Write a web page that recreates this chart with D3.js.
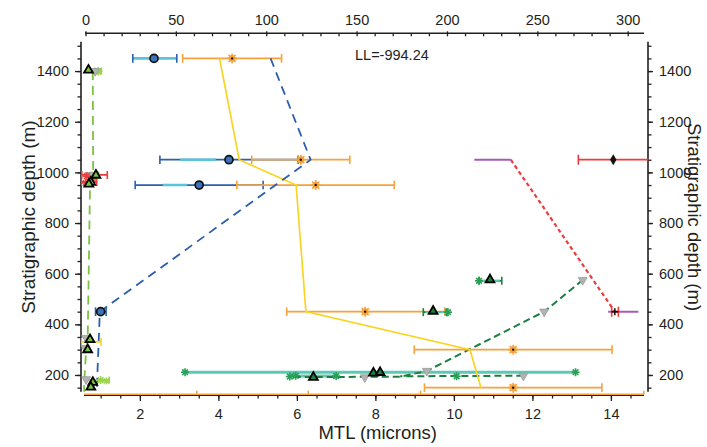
<!DOCTYPE html>
<html>
<head>
<meta charset="utf-8">
<script src="https://cdn.jsdelivr.net/npm/d3@7"></script>
<style>
  html, body { margin: 0; padding: 0; background: #fff; }
  svg { display: block; font-family: "Liberation Sans", Arial, sans-serif; }
</style>
</head>
<body>
<svg id="chart" width="707" height="447"></svg>
<script>
// ---- axis domains and ticks ----
const mtlDomain = [0.5, 14.95];          // bottom axis, microns
const depthDomain = [134, 1516];          // stratigraphic depth, m
const topDomain = [0, 300];               // upper axis scale
const bottomTicks = [2, 4, 6, 8, 10, 12, 14];
const topTicks = [0, 50, 100, 150, 200, 250, 300];
const depthTicks = [200, 400, 600, 800, 1000, 1200, 1400];
const llText = "LL=-994.24";

// ---- circle series (two error ranges) ----
const circleDepth   = [1450, 1050, 950, 450];
const circleMTL     = [2.36, 4.27, 3.51, 1.00];
const circleLo      = [1.82, 2.51, 1.88, 0.87];
const circleHi      = [2.94, 6.03, 5.14, 1.14];
const circleInnerLo = [1.82, 3.00, 2.56, 0.90];
const circleInnerHi = [2.94, 3.96, 3.23, 1.12];

// ---- orange star series ----
const starDepth = [1450, 1050, 950, 450, 300, 150];
const starMTL   = [4.35, 6.10, 6.48, 7.74, 11.51, 11.51];
const starLo    = [3.09, 4.85, 4.47, 5.74, 8.99, 9.25];
const starHi    = [5.61, 7.35, 8.48, 9.77, 14.03, 13.77];

// orange range along the base of the section
const baseDepth = 124;
const baseLo = 0.58, baseHi = 14.84;
const baseCaps = [3.45, 6.29, 9.15, 14.84];

// ---- model curves ----
const yellowDepth = [1450, 1050, 950, 450, 300, 150];
const yellowMTL   = [4.03, 4.53, 5.98, 6.23, 10.41, 10.69];

const blueDashDepth = [1450, 1050, 450, 134];
const blueDashMTL   = [5.33, 6.35, 0.98, 0.90];

const greenDashDepth = [1400, 985, 950, 335, 296, 167, 134];
const greenDashMTL   = [0.80, 0.81, 0.73, 0.67, 0.63, 0.58, 0.58];

const darkDashDepthA = [575, 450, 216, 193, 192];
const darkDashMTLA   = [13.28, 12.30, 9.31, 8.63, 5.82];
const darkDashDepthB = [197, 195];
const darkDashMTLB   = [11.77, 8.63];

const redDotDepth = [1050, 450];
const redDotMTL   = [11.45, 14.10];

// ---- triangle series ----
const triDepth = [1400, 985, 957, 950, 336, 296, 167, 148];
const triMTL   = [0.69, 0.88, 0.75, 0.70, 0.73, 0.67, 0.80, 0.75];
const darkTriDepth = [572, 448, 187, 204, 206];
const darkTriMTL   = [10.92, 9.47, 6.42, 7.95, 8.12];

const greyDepth = [1400, 989, 346, 306, 183, 575, 450, 216, 197, 191];
const greyMTL   = [0.86, 0.71, 0.63, 0.61, 0.63, 13.28, 12.30, 9.31, 11.77, 7.73];

// green bars round the dark triangles
const gBarDepth = [572, 448];
const gBarLo    = [10.64, 9.22];
const gBarHi    = [11.22, 9.82];

// teal ranges near the base
const tealDepth = [211, 196];
const tealLo    = [3.15, 5.82];
const tealHi    = [13.10, 7.00];
const dkAstDepth = [211, 211, 194, 197, 196, 195, 572, 448];
const dkAstMTL   = [3.15, 13.10, 5.82, 5.97, 7.00, 10.07, 10.64, 9.85];

// light green asterisks
const lgDepth = [1400, 990, 180];
const lgMTL   = [0.94, 0.85, 1.00];
const lgLo    = [0.85, 0.75, 0.63];
const lgHi    = [1.02, 0.95, 1.22];

// red cluster
const redBarDepth = [990, 962];
const redBarLo    = [0.52, 0.50];
const redBarHi    = [1.17, 0.90];
const redAstDepth = [985, 970, 958];
const redAstMTL   = [0.65, 0.78, 0.62];

// yellow range
const yBarDepth = [331];
const yBarLo    = [0.50];
const yBarHi    = [1.01];

// right-hand points
const diamondDepth = [1050], diamondMTL = [14.06], diamondLo = [13.17], diamondHi = [15.30];
const redXDepth = [450], redXMTL = [14.10], redXLo = [14.02], redXHi = [14.19];
const purpleDepth = [1050, 450];
const purpleLo    = [10.52, 13.93];
const purpleHi    = [11.45, 14.70];

// ---- colours ----
const C = {
  ink: "#231f20", orange: "#f7a23b", dblue: "#2c5fab", cyan: "#58c3d9",
  cfill: "#3a72bd", yellow: "#f9d423", lgreen: "#7cc242", lgast: "#9bd34f",
  dgreen: "#1a7f3f", dgast: "#27a055", teal: "#5cc9b5", grey: "#b3b3b3",
  red: "#ee3b3b", purple: "#a65cb6"
};

const svg = d3.select("#chart");
const x = d3.scaleLinear().domain(mtlDomain).range([81, 648.2]);
const y = d3.scaleLinear().domain(depthDomain).range([391.7, 41.7]);
const xTop = d3.scaleLinear().domain(topDomain).range([85.5, 627.7]);

const tickFont = 14.5;

// ---- axes ----
function styleAxis(g) {
  g.select(".domain").remove();
  g.selectAll(".tick line").attr("stroke", C.ink).attr("stroke-width", 1.3);
  g.selectAll(".tick text").attr("fill", C.ink).style("font-size", tickFont + "px");
}
const range = (a, b, s) => d3.range(a, b + s / 2, s);

// bottom
svg.append("g").attr("transform", "translate(0,395)")
  .call(d3.axisBottom(x).tickValues(range(1, 14.5, 0.5)).tickSize(3.5).tickFormat(""))
  .call(styleAxis);
svg.append("g").attr("transform", "translate(0,395)")
  .call(d3.axisBottom(x).tickValues(bottomTicks).tickSize(6).tickPadding(7.8).tickFormat(d3.format("d")))
  .call(styleAxis);
svg.append("line").attr("x1", 84).attr("x2", 644).attr("y1", 395.3).attr("y2", 395.3)
  .attr("stroke", C.ink).attr("stroke-width", 1.6);

// top
svg.append("g").attr("transform", "translate(0,33.3)")
  .call(d3.axisTop(xTop).tickValues(range(0, 300, 10)).tickSize(-3).tickFormat(""))
  .call(styleAxis);
svg.append("g").attr("transform", "translate(0,33.3)")
  .call(d3.axisTop(xTop).tickValues(topTicks).tickSizeInner(2).tickSizeOuter(0).tickPadding(6.3).tickFormat(d3.format("d")))
  .call(styleAxis);
svg.append("line").attr("x1", 85).attr("x2", 644).attr("y1", 33.3).attr("y2", 33.3)
  .attr("stroke", C.ink).attr("stroke-width", 1.6);

// left
svg.append("g").attr("transform", "translate(81,0)")
  .call(d3.axisLeft(y).tickValues(range(150, 1500, 50)).tickSize(3.5).tickFormat(""))
  .call(styleAxis);
svg.append("g").attr("transform", "translate(81,0)")
  .call(d3.axisLeft(y).tickValues(depthTicks).tickSize(6).tickPadding(6).tickFormat(d3.format("d")))
  .call(styleAxis);
svg.append("line").attr("x1", 81).attr("x2", 81).attr("y1", 41.7).attr("y2", 391.7)
  .attr("stroke", C.ink).attr("stroke-width", 1.6);

// right
svg.append("g").attr("transform", "translate(648,0)")
  .call(d3.axisRight(y).tickValues(range(150, 1500, 50)).tickSize(3.5).tickFormat(""))
  .call(styleAxis);
svg.append("g").attr("transform", "translate(648,0)")
  .call(d3.axisRight(y).tickValues(depthTicks).tickSize(5).tickPadding(6).tickFormat(d3.format("d")))
  .call(styleAxis);
svg.append("line").attr("x1", 648).attr("x2", 648).attr("y1", 41.7).attr("y2", 391.7)
  .attr("stroke", C.ink).attr("stroke-width", 1.6);

// titles
svg.append("text").attr("transform", "translate(377.7,439)").attr("text-anchor", "middle")
  .attr("fill", C.ink).style("font-size", "18.5px").text("MTL (microns)");
svg.append("text").attr("transform", "translate(35,217) rotate(-90)").attr("text-anchor", "middle")
  .attr("fill", C.ink).style("font-size", "19px").text("Stratigraphic depth (m)");
svg.append("text").attr("transform", "translate(688,217) rotate(90)").attr("text-anchor", "middle")
  .attr("fill", C.ink).style("font-size", "18.5px").text("Stratigraphic depth (m)");
svg.append("text").attr("x", 355).attr("y", 60).attr("fill", C.ink)
  .style("font-size", "14.5px").text(llText);

// ---- plotting layer ----
svg.append("clipPath").attr("id", "plotClip").append("rect")
  .attr("x", 81).attr("y", 34).attr("width", 567.5).attr("height", 362);
const plot = svg.append("g").attr("clip-path", "url(#plotClip)");

function hbar(g, depth, lo, hi, color, w, cap, capColor) {
  const yy = y(depth);
  g.append("line").attr("x1", x(lo)).attr("x2", x(hi)).attr("y1", yy).attr("y2", yy)
    .attr("stroke", color).attr("stroke-width", w);
  if (cap) {
    [lo, hi].forEach(v => g.append("line").attr("x1", x(v)).attr("x2", x(v))
      .attr("y1", yy - cap).attr("y2", yy + cap)
      .attr("stroke", capColor || color).attr("stroke-width", 1.6));
  }
}
function asterisk(g, cx, cy, r, color, sw, n) {
  for (let i = 0; i < n; i++) {
    const a = Math.PI * i / n;
    g.append("line")
      .attr("x1", cx - r * Math.cos(a)).attr("y1", cy - r * Math.sin(a))
      .attr("x2", cx + r * Math.cos(a)).attr("y2", cy + r * Math.sin(a))
      .attr("stroke", color).attr("stroke-width", sw);
  }
}
function polyline(g, depths, mtls, color, w, dash) {
  const pts = depths.map((d, i) => [x(mtls[i]), y(d)]);
  g.append("path").attr("d", d3.line()(pts)).attr("fill", "none")
    .attr("stroke", color).attr("stroke-width", w)
    .attr("stroke-dasharray", dash || null);
}
const tri = d3.symbol().type(d3.symbolTriangle).size(34);

// orange range along the base
hbar(plot, baseDepth, baseLo, baseHi, C.orange, 1.6, 0);
baseCaps.forEach(v => plot.append("line").attr("x1", x(v)).attr("x2", x(v))
  .attr("y1", y(baseDepth) - 3.5).attr("y2", y(baseDepth)).attr("stroke", C.orange).attr("stroke-width", 1.6));

// teal ranges
tealDepth.forEach((d, i) => hbar(plot, d, tealLo[i], tealHi[i], C.teal, 3, 0));

// curves
polyline(plot, greenDashDepth, greenDashMTL, C.lgreen, 1.8, "9,6");
polyline(plot, darkDashDepthA, darkDashMTLA, C.dgreen, 2, "7,4");
polyline(plot, darkDashDepthB, darkDashMTLB, C.dgreen, 2, "7,4");

// circle error bars
circleDepth.forEach((d, i) => {
  hbar(plot, d, circleLo[i], circleHi[i], C.dblue, 1.8, 4.3);
  plot.append("line").attr("x1", x(circleInnerLo[i]) + 1).attr("x2", x(circleInnerHi[i]) - 1)
    .attr("y1", y(d)).attr("y2", y(d)).attr("stroke", C.cyan).attr("stroke-width", 2.4);
});

// orange error bars
starDepth.forEach((d, i) => hbar(plot, d, starLo[i], starHi[i], C.orange, 1.8, 4.3));

polyline(plot, yellowDepth, yellowMTL, C.yellow, 1.7);
polyline(plot, blueDashDepth, blueDashMTL, C.dblue, 1.8, "9,6");
polyline(plot, redDotDepth, redDotMTL, C.red, 2.2, "4,3");

// purple ranges
purpleDepth.forEach((d, i) => hbar(plot, d, purpleLo[i], purpleHi[i], C.purple, 2, 0));

// red ranges
redBarDepth.forEach((d, i) => hbar(plot, d, redBarLo[i], redBarHi[i], C.red, 1.8, 4));
hbar(plot, diamondDepth[0], diamondLo[0], diamondHi[0], C.red, 1.8, 5);
hbar(plot, redXDepth[0], redXLo[0], redXHi[0], C.red, 1.8, 5);

// yellow range
yBarDepth.forEach((d, i) => hbar(plot, d, yBarLo[i], yBarHi[i], C.yellow, 1.8, 4));

// green ranges
gBarDepth.forEach((d, i) => {
  hbar(plot, d, gBarLo[i], gBarHi[i], C.dgreen, 1.8, 4);
  plot.append("line").attr("x1", x(gBarLo[i]) + 2).attr("x2", x(gBarHi[i]) - 2)
    .attr("y1", y(d)).attr("y2", y(d)).attr("stroke", C.teal).attr("stroke-width", 2);
});

// light green ranges and asterisks
lgDepth.forEach((d, i) => {
  hbar(plot, d, lgLo[i], lgHi[i], C.lgast, 1.6, 3.5);
  asterisk(plot, x(lgMTL[i]), y(d), 4, C.lgast, 1.6, 4);
  asterisk(plot, x(lgHi[i]) - 3, y(d) + 1, 3.5, C.lgast, 1.4, 4);
});

// grey down-triangles
greyDepth.forEach((d, i) => plot.append("path").attr("d", tri)
  .attr("transform", `translate(${x(greyMTL[i])},${y(d)}) rotate(180)`)
  .attr("fill", C.grey).attr("stroke", "#9a9a9a").attr("stroke-width", 0.8));

// red asterisks
redAstDepth.forEach((d, i) => asterisk(plot, x(redAstMTL[i]), y(d), 4, C.red, 1.6, 4));

// dark green asterisks
dkAstDepth.forEach((d, i) => asterisk(plot, x(dkAstMTL[i]), y(d), 4, C.dgast, 1.6, 4));

// circles
circleDepth.forEach((d, i) => plot.append("circle")
  .attr("cx", x(circleMTL[i])).attr("cy", y(d)).attr("r", 4)
  .attr("fill", C.cfill).attr("stroke", "#111").attr("stroke-width", 1.7));

// orange stars
starDepth.forEach((d, i) => {
  const cx = x(starMTL[i]), cy = y(d);
  asterisk(plot, cx, cy, 5, C.orange, 1.6, 4);
  plot.append("circle").attr("cx", cx).attr("cy", cy).attr("r", 3.4).attr("fill", C.orange);
  plot.append("circle").attr("cx", cx).attr("cy", cy).attr("r", 1.2).attr("fill", "#111");
});

// triangles
triDepth.forEach((d, i) => plot.append("path").attr("d", tri)
  .attr("transform", `translate(${x(triMTL[i])},${y(d) - 1})`)
  .attr("fill", C.lgreen).attr("stroke", "#000").attr("stroke-width", 1.8));
darkTriDepth.forEach((d, i) => plot.append("path").attr("d", tri)
  .attr("transform", `translate(${x(darkTriMTL[i])},${y(d) - 1})`)
  .attr("fill", C.dgreen).attr("stroke", "#000").attr("stroke-width", 1.8));

// diamond and cross markers on the right
plot.append("path").attr("d", d3.symbol().type(d3.symbolDiamond).size(36))
  .attr("transform", `translate(${x(diamondMTL[0])},${y(diamondDepth[0])})`)
  .attr("fill", "#111");
asterisk(plot, x(redXMTL[0]), y(redXDepth[0]), 3.5, "#111", 1.5, 2);
</script>
</body>
</html>
